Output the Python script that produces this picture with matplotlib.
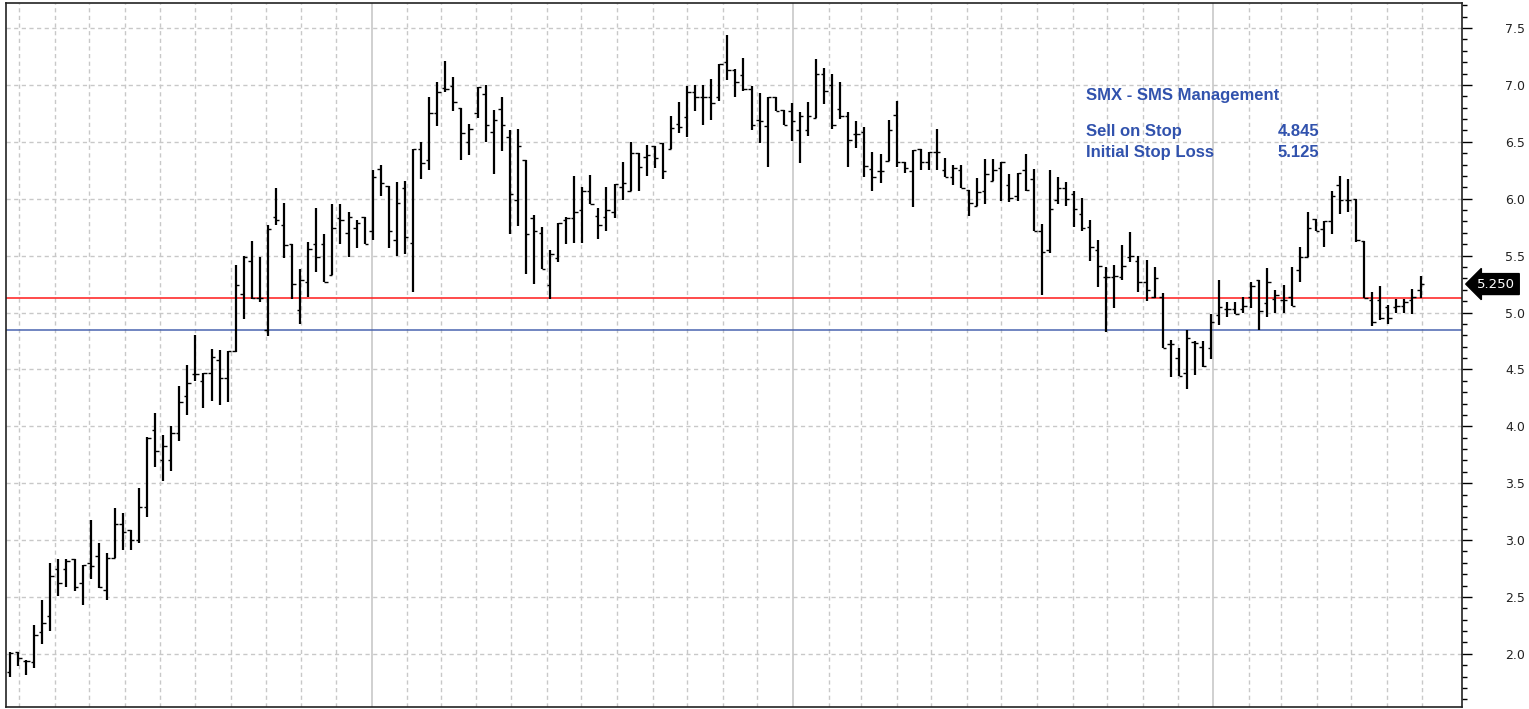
import numpy as np
import pandas as pd
import matplotlib
matplotlib.use('Agg')
import matplotlib.pyplot as plt
import matplotlib.dates as mdates
import matplotlib.transforms as mtransforms
from matplotlib.ticker import MultipleLocator, FormatStrFormatter

# weekly bars, SMX
dates = pd.date_range('2003-02-21', periods=176, freq='7D')

open_ = [1.84, 2.02, 1.94, 1.93, 2.19, 2.33, 2.75, 2.75, 2.83, 2.62,
         2.80, 2.86, 2.56, 2.84, 3.14, 3.09, 3.00, 3.29, 3.97, 3.70,
         3.70, 3.94, 4.27, 4.46, 4.40, 4.47, 4.58, 4.42, 4.66, 5.16,
         5.45, 5.13, 4.85, 5.84, 5.77, 5.60, 5.02, 5.27, 5.60, 5.60,
         5.33, 5.83, 5.70, 5.74, 5.84, 5.72, 6.26, 6.11, 5.64, 6.09,
         5.61, 6.44, 6.34, 6.75, 6.97, 6.99, 6.80, 6.50, 6.75, 6.92,
         6.59, 6.79, 6.54, 5.99, 6.34, 5.83, 5.70, 5.24, 5.48, 5.81,
         5.83, 5.90, 6.07, 5.85, 5.84, 5.88, 6.10, 6.07, 6.40, 6.37,
         6.46, 6.49, 6.44, 6.66, 6.72, 6.94, 6.89, 6.89, 6.89, 7.20,
         7.13, 7.09, 6.96, 6.69, 6.64, 6.89, 6.78, 6.77, 6.60, 6.60,
         6.71, 7.10, 7.00, 6.79, 6.73, 6.57, 6.59, 6.26, 6.24, 6.33,
         6.74, 6.32, 6.24, 6.44, 6.32, 6.41, 6.25, 6.19, 6.25, 6.08,
         5.94, 6.07, 6.16, 6.27, 6.12, 6.02, 6.25, 6.17, 5.72, 5.55,
         5.99, 6.09, 6.04, 5.87, 5.75, 5.55, 5.31, 5.31, 5.31, 5.49,
         5.45, 5.27, 5.14, 5.14, 4.72, 4.60, 4.47, 4.74, 4.70, 4.69,
         4.98, 5.03, 5.03, 5.03, 5.14, 5.29, 5.08, 5.12, 5.11, 5.14,
         5.37, 5.49, 5.82, 5.73, 5.80, 6.12, 5.99, 6.00, 5.63, 5.11,
         5.11, 5.05, 5.05, 5.06, 5.11, 5.20]
high = [2.02, 2.02, 1.95, 2.25, 2.47, 2.80, 2.83, 2.83, 2.83, 2.78,
        3.18, 2.97, 2.89, 3.28, 3.24, 3.09, 3.46, 3.91, 4.12, 3.92,
        4.00, 4.35, 4.54, 4.80, 4.47, 4.68, 4.67, 4.66, 5.42, 5.50,
        5.63, 5.49, 5.77, 6.09, 5.96, 5.60, 5.38, 5.62, 5.92, 5.69,
        5.95, 5.95, 5.88, 5.81, 5.84, 6.25, 6.30, 6.11, 6.15, 6.16,
        6.44, 6.50, 6.89, 7.03, 7.21, 7.07, 6.80, 6.66, 6.98, 7.00,
        6.78, 6.89, 6.60, 6.61, 6.34, 5.86, 5.75, 5.55, 5.79, 5.84,
        6.20, 6.10, 6.21, 5.92, 6.10, 6.13, 6.32, 6.50, 6.40, 6.47,
        6.46, 6.49, 6.73, 6.85, 6.99, 7.00, 7.00, 7.05, 7.18, 7.44,
        7.14, 7.24, 6.99, 6.93, 6.89, 6.89, 6.78, 6.84, 6.76, 6.85,
        7.23, 7.15, 7.10, 7.03, 6.76, 6.68, 6.63, 6.41, 6.39, 6.69,
        6.86, 6.32, 6.43, 6.44, 6.41, 6.61, 6.36, 6.30, 6.30, 6.08,
        6.18, 6.35, 6.35, 6.32, 6.22, 6.23, 6.39, 6.26, 5.78, 6.25,
        6.19, 6.15, 6.07, 6.01, 5.81, 5.64, 5.40, 5.42, 5.59, 5.71,
        5.50, 5.46, 5.40, 5.17, 4.76, 4.69, 4.85, 4.75, 4.75, 4.99,
        5.29, 5.09, 5.09, 5.14, 5.27, 5.29, 5.39, 5.20, 5.24, 5.40,
        5.58, 5.88, 5.82, 5.80, 6.07, 6.20, 6.17, 6.00, 5.63, 5.18,
        5.23, 5.07, 5.12, 5.12, 5.21, 5.32]
low = [1.80, 1.89, 1.81, 1.88, 2.09, 2.20, 2.51, 2.59, 2.55, 2.43,
       2.66, 2.58, 2.47, 2.84, 2.91, 2.91, 2.97, 3.20, 3.64, 3.52,
       3.61, 3.87, 4.10, 4.40, 4.16, 4.22, 4.19, 4.21, 4.65, 4.94,
       5.12, 5.09, 4.79, 5.77, 5.48, 5.12, 4.90, 5.14, 5.36, 5.27,
       5.33, 5.60, 5.49, 5.57, 5.60, 5.64, 6.02, 5.57, 5.50, 5.51,
       5.18, 6.17, 6.25, 6.64, 6.94, 6.77, 6.34, 6.38, 6.71, 6.50,
       6.22, 6.42, 5.69, 5.76, 5.34, 5.25, 5.38, 5.12, 5.44, 5.60,
       5.61, 5.61, 5.95, 5.65, 5.72, 5.83, 5.99, 6.07, 6.07, 6.20,
       6.27, 6.17, 6.44, 6.58, 6.54, 6.77, 6.65, 6.69, 6.86, 7.04,
       6.89, 6.95, 6.60, 6.49, 6.28, 6.77, 6.65, 6.51, 6.31, 6.55,
       6.71, 6.83, 6.61, 6.70, 6.28, 6.45, 6.19, 6.07, 6.14, 6.33,
       6.28, 6.23, 5.93, 6.25, 6.25, 6.25, 6.19, 6.12, 6.09, 5.85,
       5.94, 5.95, 6.16, 5.98, 5.97, 5.98, 6.07, 5.72, 5.15, 5.52,
       5.95, 5.94, 5.75, 5.72, 5.45, 5.22, 4.83, 5.04, 5.29, 5.44,
       5.18, 5.10, 5.13, 4.69, 4.43, 4.44, 4.33, 4.45, 4.52, 4.59,
       4.89, 4.96, 4.99, 5.00, 5.04, 4.85, 4.96, 5.00, 5.00, 5.06,
       5.27, 5.49, 5.72, 5.58, 5.69, 5.87, 5.88, 5.62, 5.13, 4.88,
       4.93, 4.90, 5.00, 5.00, 4.99, 5.13]
close = [2.01, 1.96, 1.94, 2.17, 2.27, 2.68, 2.62, 2.82, 2.59, 2.78,
         2.77, 2.59, 2.84, 3.14, 3.07, 3.00, 3.29, 3.90, 3.78, 3.83,
         3.94, 4.21, 4.38, 4.46, 4.47, 4.61, 4.42, 4.66, 5.24, 5.49,
         5.13, 5.13, 5.73, 5.81, 5.59, 5.25, 5.29, 5.56, 5.49, 5.27,
         5.74, 5.81, 5.84, 5.79, 5.60, 6.19, 6.14, 5.72, 5.96, 5.66,
         6.44, 6.31, 6.75, 6.94, 6.96, 6.85, 6.58, 6.61, 6.98, 6.65,
         6.69, 6.65, 6.04, 6.46, 5.69, 5.72, 5.38, 5.51, 5.79, 5.83,
         5.88, 6.07, 5.95, 5.77, 5.90, 6.13, 6.14, 6.40, 6.28, 6.38,
         6.36, 6.24, 6.62, 6.63, 6.94, 6.89, 6.89, 6.84, 7.18, 7.13,
         7.03, 6.96, 6.65, 6.68, 6.89, 6.77, 6.65, 6.68, 6.73, 6.73,
         7.10, 6.95, 6.65, 6.73, 6.52, 6.57, 6.29, 6.19, 6.24, 6.60,
         6.32, 6.27, 6.43, 6.32, 6.41, 6.41, 6.19, 6.27, 6.09, 5.96,
         6.06, 6.22, 6.25, 6.32, 6.01, 6.23, 6.08, 5.72, 5.53, 5.91,
         6.09, 6.00, 5.91, 5.74, 5.58, 5.41, 5.31, 5.32, 5.41, 5.50,
         5.27, 5.20, 5.30, 4.69, 4.72, 4.44, 4.78, 4.73, 4.53, 4.92,
         5.05, 5.03, 4.99, 5.06, 5.23, 5.01, 5.27, 5.15, 5.11, 5.06,
         5.49, 5.74, 5.72, 5.80, 6.02, 5.99, 5.99, 5.64, 5.13, 4.92,
         4.95, 4.95, 5.06, 5.09, 5.14, 5.25]

sell_on_stop = 4.845
initial_stop = 5.125
last_price = 5.250

x = mdates.date2num(dates)
tick = 3.0  # days

fig = plt.figure(figsize=(15.29, 7.09), dpi=100)
ax = fig.add_axes([6/1529, 2/709, 1456/1529, 704/709])

# grid
grid_col = '#c8c8c8'
months = pd.date_range('2003-03-01', '2006-07-01', freq='MS')
for m in months:
    if m.month == 1:
        ax.axvline(mdates.date2num(m), color=grid_col, lw=1.2, zorder=0)
    else:
        ax.axvline(mdates.date2num(m), color=grid_col, lw=1, ls=(0, (3, 2.5)), zorder=0)
ax.yaxis.grid(True, which='major', color=grid_col, lw=1, ls=(0, (3, 2.5)))
ax.set_axisbelow(True)

# ohlc bars
ax.vlines(x, low, high, color='black', lw=1.6, zorder=3)
ax.hlines(open_, x - tick, x, color='black', lw=1.0, zorder=3)
ax.hlines(close, x, x + tick, color='black', lw=1.0, zorder=3)

ax.axhline(initial_stop, color='#ff1a1a', lw=1.1, zorder=2)
ax.axhline(sell_on_stop, color='#4a64b0', lw=1.1, zorder=2)

ax.set_xlim(x[0] - 3.5, x[0] + 1261)
ax.set_ylim(1.533, 7.72)

ax.yaxis.tick_right()
ax.yaxis.set_major_locator(MultipleLocator(0.5))
ax.yaxis.set_minor_locator(MultipleLocator(0.1))
ax.yaxis.set_major_formatter(FormatStrFormatter('%.1f'))
ax.tick_params(axis='y', which='major', length=7, width=1, direction='out',
               pad=24, labelsize=9, labelcolor='#222222')
ax.tick_params(axis='y', which='minor', length=3.5, width=1, direction='out')
ax.tick_params(axis='x', which='both', bottom=False, labelbottom=False)
for s in ax.spines.values():
    s.set_color('#222222')
    s.set_linewidth(1.2)

txt_col = '#3152ad'
fnt = dict(family='Liberation Sans', weight='bold', size=12, color=txt_col)
ax.text(0.7418, 0.869, 'SMX - SMS Management', transform=ax.transAxes,
        va='center', ha='left', **fnt)
ax.text(0.7418, 0.8168, 'Sell on Stop', transform=ax.transAxes,
        va='center', ha='left', **fnt)
ax.text(0.7418, 0.788, 'Initial Stop Loss', transform=ax.transAxes,
        va='center', ha='left', **fnt)
ax.text(0.9018, 0.8168, '%.3f' % sell_on_stop, transform=ax.transAxes,
        va='center', ha='right', **fnt)
ax.text(0.9018, 0.788, '%.3f' % initial_stop, transform=ax.transAxes,
        va='center', ha='right', **fnt)

trans = mtransforms.blended_transform_factory(ax.transAxes, ax.transData)
ax.text(1.0105, last_price, '%.3f' % last_price, transform=trans,
        va='center', ha='left', color='white', fontsize=9.5,
        bbox=dict(boxstyle='larrow,pad=0.3', fc='black', ec='black'),
        clip_on=False)

fig.savefig('out.png', dpi=100)
